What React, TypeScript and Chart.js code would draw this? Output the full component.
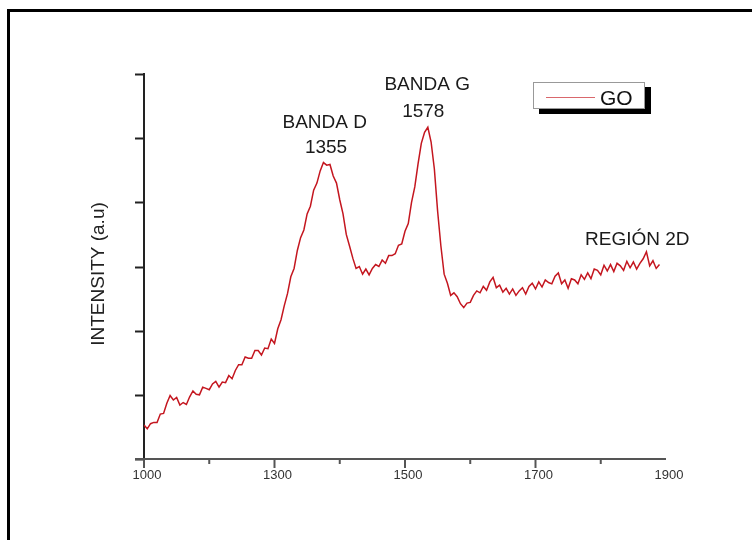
import React, { useEffect, useRef } from "react";
import { Chart, registerables } from "chart.js";

Chart.register(...registerables);

// Raman shift sample positions (plot units) and GO intensity (a.u.)
const ramanShift = [
  1000, 1005, 1010, 1015, 1020, 1025, 1030, 1035, 1040, 1045,
  1050, 1055, 1060, 1065, 1070, 1075, 1080, 1085, 1090, 1095,
  1100, 1105, 1110, 1115, 1120, 1125, 1130, 1135, 1140, 1145,
  1150, 1155, 1160, 1165, 1170, 1175, 1180, 1185, 1190, 1195,
  1200, 1205, 1210, 1215, 1220, 1225, 1230, 1235, 1240, 1245,
  1250, 1255, 1260, 1265, 1270, 1275, 1280, 1285, 1290, 1295,
  1300, 1305, 1310, 1315, 1320, 1325, 1330, 1335, 1340, 1345,
  1350, 1355, 1360, 1365, 1370, 1375, 1380, 1385, 1390, 1395,
  1400, 1405, 1410, 1415, 1420, 1425, 1430, 1435, 1440, 1445,
  1450, 1455, 1460, 1465, 1470, 1475, 1480, 1485, 1490, 1495,
  1500, 1505, 1510, 1515, 1520, 1525, 1530, 1535, 1540, 1545,
  1550, 1555, 1560, 1565, 1570, 1575, 1580, 1585, 1590, 1595,
  1600, 1605, 1610, 1615, 1620, 1625, 1630, 1635, 1640, 1645,
  1650, 1655, 1660, 1665, 1670, 1675, 1680, 1685, 1690, 1695,
  1700, 1705, 1710, 1715, 1720, 1725, 1730, 1735, 1740, 1745,
  1750, 1755, 1760, 1765, 1770, 1775, 1780, 1785, 1790,
];

const goIntensity = [
  53, 47, 55, 57, 57, 70, 71, 87, 99, 92,
  96, 84, 88, 85, 97, 106, 101, 100, 112, 110,
  108, 117, 121, 112, 120, 119, 130, 125, 138, 147,
  147, 159, 157, 157, 169, 169, 162, 173, 172, 187,
  180, 203, 217, 239, 258, 284, 297, 325, 345, 357,
  382, 394, 419, 430, 449, 462, 458, 459, 441, 430,
  404, 382, 350, 332, 313, 297, 300, 288, 296, 287,
  297, 303, 300, 310, 305, 317, 317, 320, 333, 335,
  355, 367, 400, 424, 460, 492, 509, 517, 494, 452,
  386, 332, 288, 274, 255, 259, 253, 242, 236, 243,
  244, 255, 262, 259, 269, 263, 276, 283, 267, 271,
  260, 266, 257, 265, 255, 262, 267, 257, 269, 274,
  265, 276, 268, 279, 275, 273, 285, 290, 273, 279,
  266, 281, 279, 273, 287, 280, 290, 281, 296, 294,
  287, 302, 293, 303, 292, 305, 301, 294, 308, 298,
  307, 296, 305, 312, 323, 301, 309, 297, 303,
];

const seriesLabel = "GO";
const xMajorTicks = [1000, 1200, 1400, 1600, 1800];
const xTickLabels = ["1000", "1300", "1500", "1700", "1900"];
const xMinorTicks = [1100, 1300, 1500, 1700];
const yTicks = [0, 100, 200, 300, 400, 500, 600];
const yTitle = "INTENSITY (a.u)";

const annotationTexts = ["BANDA D", "1355", "BANDA G", "1578", "REGIÓN 2D"];
const annotationX = [1277, 1279, 1434, 1428, 1756];
const annotationY = [516, 477, 575, 533, 333];

const FONT = '"Liberation Sans", Arial, Helvetica, sans-serif';
const LINE_COLOR = "#c4161f";

const decorPlugin = {
  id: "decor",
  beforeDatasetsDraw(chart: any) {
    const { ctx, chartArea, scales } = chart;
    const xs = scales.x;
    const ys = scales.y;
    ctx.save();
    // outer frame (top + left visible)
    ctx.fillStyle = "#000";
    ctx.fillRect(7, 9, 752 - 7, 3);
    ctx.fillRect(7, 9, 3, 540 - 9);

    // y axis
    const x0 = xs.getPixelForValue(1000);
    const yTop = ys.getPixelForValue(600);
    const yBot = ys.getPixelForValue(0);
    ctx.strokeStyle = "#222";
    ctx.lineWidth = 2;
    ctx.beginPath();
    ctx.moveTo(x0, yTop - 1);
    ctx.lineTo(x0, yBot + 2);
    ctx.stroke();
    yTicks.forEach((v) => {
      const y = Math.round(ys.getPixelForValue(v)) + 0.5;
      ctx.beginPath();
      ctx.moveTo(x0 - 9, y);
      ctx.lineTo(x0, y);
      ctx.stroke();
    });

    // x axis
    const xEnd = xs.getPixelForValue(1800);
    ctx.strokeStyle = "#555";
    ctx.beginPath();
    ctx.moveTo(x0 - 9, yBot);
    ctx.lineTo(xEnd, yBot);
    ctx.stroke();
    xMajorTicks.forEach((v) => {
      if (v === 1800) return;
      const x = xs.getPixelForValue(v);
      ctx.beginPath();
      ctx.moveTo(x, yBot);
      ctx.lineTo(x, yBot + 9);
      ctx.stroke();
    });
    xMinorTicks.forEach((v) => {
      const x = xs.getPixelForValue(v);
      ctx.beginPath();
      ctx.moveTo(x, yBot);
      ctx.lineTo(x, yBot + 5);
      ctx.stroke();
    });

    // x tick labels
    ctx.fillStyle = "#333";
    ctx.font = `13px ${FONT}`;
    ctx.textAlign = "center";
    ctx.textBaseline = "middle";
    xMajorTicks.forEach((v, i) => {
      ctx.fillText(xTickLabels[i], xs.getPixelForValue(v) + 3, yBot + 16);
    });

    // y title
    ctx.save();
    ctx.translate(chartArea.left - 45, chartArea.top + 200);
    ctx.rotate(-Math.PI / 2);
    ctx.fillStyle = "#222";
    ctx.font = `19px ${FONT}`;
    ctx.textAlign = "center";
    ctx.textBaseline = "middle";
    ctx.fillText(yTitle, 0, 0);
    ctx.restore();
    ctx.restore();
  },
  afterDatasetsDraw(chart: any) {
    const { ctx, chartArea, scales } = chart;
    const xs = scales.x;
    const ys = scales.y;
    ctx.save();
    // annotations
    ctx.fillStyle = "#1a1a1a";
    ctx.font = `19px ${FONT}`;
    ctx.textAlign = "center";
    ctx.textBaseline = "alphabetic";
    annotationTexts.forEach((t, i) => {
      ctx.fillText(t, xs.getPixelForValue(annotationX[i]), ys.getPixelForValue(annotationY[i]));
    });

    // legend with drop shadow
    const bx = chartArea.right - 133;
    const by = chartArea.top + 8;
    const bw = 112;
    const bh = 27;
    ctx.fillStyle = "#000";
    ctx.fillRect(bx + 6, by + 5, bw, bh);
    ctx.fillStyle = "#fff";
    ctx.fillRect(bx, by, bw, bh);
    ctx.strokeStyle = "#999";
    ctx.lineWidth = 1;
    ctx.strokeRect(bx + 0.5, by + 0.5, bw - 1, bh - 1);
    ctx.strokeStyle = "#d9676c";
    ctx.lineWidth = 1;
    ctx.beginPath();
    ctx.moveTo(bx + 13, by + 15.5);
    ctx.lineTo(bx + 62, by + 15.5);
    ctx.stroke();
    ctx.fillStyle = "#111";
    ctx.font = `21px ${FONT}`;
    ctx.textAlign = "left";
    ctx.textBaseline = "alphabetic";
    ctx.fillText(seriesLabel, bx + 67, by + 23);
    ctx.restore();
  },
};

export default function App() {
  const canvasRef = useRef<HTMLCanvasElement | null>(null);

  useEffect(() => {
    const canvas = canvasRef.current;
    if (!canvas) return;
    const chart = new Chart(canvas, {
      type: "line",
      data: {
        datasets: [
          {
            label: seriesLabel,
            data: ramanShift.map((x, i) => ({ x, y: goIntensity[i] })),
            borderColor: LINE_COLOR,
            borderWidth: 1.5,
            pointRadius: 0,
            fill: false,
            tension: 0,
          },
        ],
      },
      options: {
        animation: false,
        responsive: false,
        maintainAspectRatio: false,
        devicePixelRatio: 1,
        layout: { padding: { left: 144, right: 86, top: 74, bottom: 81 } },
        scales: {
          x: { type: "linear", min: 1000, max: 1800, display: false },
          y: { type: "linear", min: 0, max: 600, display: false },
        },
        plugins: {
          legend: { display: false },
          tooltip: { enabled: false },
        },
      },
      plugins: [decorPlugin],
    });
    return () => chart.destroy();
  }, []);

  return (
    <div style={{ position: "fixed", left: 0, top: 0, width: 752, height: 540, background: "#fff" }}>
      <canvas ref={canvasRef} width={752} height={540} style={{ display: "block" }} />
    </div>
  );
}
